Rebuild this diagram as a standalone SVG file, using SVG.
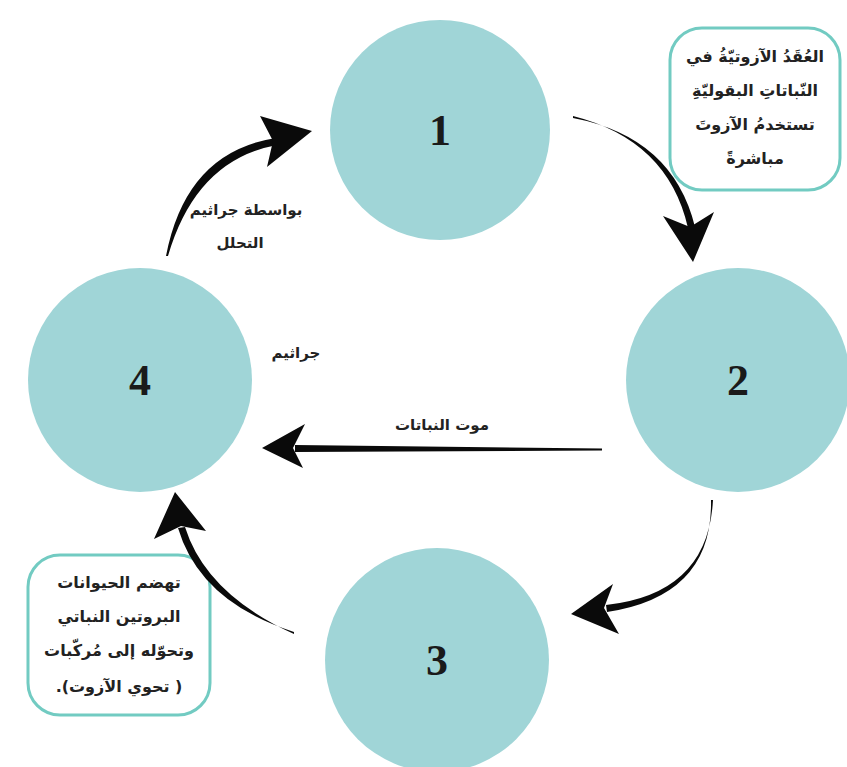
<svg xmlns="http://www.w3.org/2000/svg" width="847" height="767" viewBox="0 0 847 767">
<style>
.node{fill:#a0d5d7;}
.num{font-family:"Liberation Serif",serif;font-weight:bold;font-size:44px;fill:#1a1a1a;text-anchor:middle;}
.ar{font-family:"DejaVu Sans",sans-serif;font-weight:bold;font-size:16px;fill:#222;text-anchor:middle;direction:rtl;}
.lbl{font-size:15px;}
.box{fill:#fff;stroke:#72cbc2;stroke-width:3;}
.arrow{fill:#0a0a0a;}
</style>
<rect width="847" height="767" fill="#ffffff"/>
<g id="node1"><circle class="node" cx="440" cy="130" r="110"/><text class="num" x="440" y="145">1</text></g>
<g id="node2"><circle class="node" cx="738" cy="380" r="112"/><text class="num" x="738" y="395">2</text></g>
<g id="node3"><circle class="node" cx="437" cy="660" r="112"/><text class="num" x="437" y="675">3</text></g>
<g id="node4"><circle class="node" cx="140" cy="380" r="112"/><text class="num" x="140" y="395">4</text></g>
<g id="note-top">
<rect class="box" x="670" y="28" width="170" height="162" rx="32"/>
<text class="ar" x="755" y="62">العُقَدُ الآزوتيّةُ في</text>
<text class="ar" x="755" y="96">النّباتاتِ البقوليّةِ</text>
<text class="ar" x="755" y="130">تستخدمُ الآزوتَ</text>
<text class="ar" x="755" y="164">مباشرةً</text>
</g>
<g id="note-bottom">
<rect class="box" x="28" y="555" width="182" height="160" rx="32"/>
<text class="ar" x="119" y="588">تهضم الحيوانات</text>
<text class="ar" x="119" y="622">البروتين النباتي</text>
<text class="ar" x="119" y="656">وتحوّله إلى مُركّبات</text>
<text class="ar" x="119" y="692">( تحوي الآزوت).</text>
</g>
<g id="labels">
<text class="ar lbl" x="246" y="215">بواسطة جراثيم</text>
<text class="ar lbl" x="240" y="248">التحلل</text>
<text class="ar lbl" x="296" y="358">جراثيم</text>
<text class="ar lbl" x="442" y="430">موت النباتات</text>
</g>
<g id="connectors">
<path class="arrow" d="M166,256 Q186,152 276,138 L277,145 Q196,160 168,256 Z"/>
<polygon class="arrow" points="312,131 260,116 273,141 267,167"/>
<path class="arrow" d="M573,116 Q668,140 688,228 L695,227 Q673,137 573,118 Z"/>
<polygon class="arrow" points="693,262 663,216 690,227 714,212"/>
<path class="arrow" d="M713,500 Q708,594 606,605 L607,612 Q713,596 711,500 Z"/>
<polygon class="arrow" points="571,614 613,584 604,608 619,634"/>
<path class="arrow" d="M294,632 Q200,602 178,528 L185,527 Q206,594 294,634 Z"/>
<polygon class="arrow" points="175,492 154,539 181,526 206,531"/>
<path class="arrow" d="M602,448.5 L295,445 L295,452 L602,450.5 Z"/>
<polygon class="arrow" points="262,448 305,424 293,448 303,468"/>
</g>
</svg>
